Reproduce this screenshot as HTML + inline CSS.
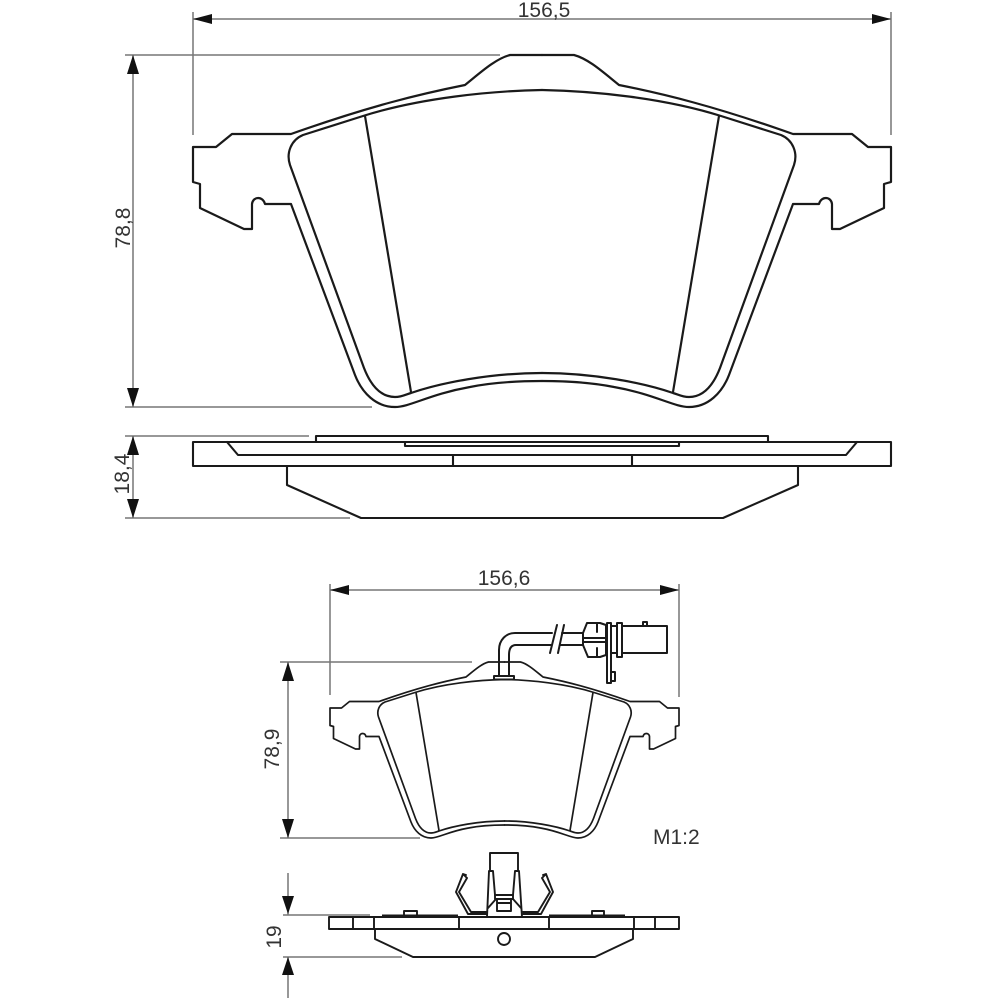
<!DOCTYPE html>
<html><head><meta charset="utf-8"><style>
html,body{margin:0;padding:0;background:#fff}
svg{display:block}
text{font-family:"Liberation Sans",sans-serif;font-size:21px;fill:#333}
.d{stroke:#777;stroke-width:1.5;fill:none}
.k{stroke:#1a1a1a;fill:none;stroke-linejoin:round;stroke-linecap:round}
</style></head><body>
<svg width="1000" height="1000" viewBox="0 0 1000 1000" xmlns="http://www.w3.org/2000/svg">
<defs>
<g id="half">
<path d="M542 55H510C495 59 480 73 465 85C420 94 370 106 291 134H232L216 147H193V182L200 184V208L244 229H252V204C253 196 263 196 265 204H291L355 375C362 393 376 407 395 407C410 407 430 394 470 387C495 382 520 381 542 381"/>
<path d="M542 90C490 91 420 98 363 116L303 135C291 140 286 153 290 165L364 368C371 386 381 397 395 397C402 397 407 394 411 393C440 383 490 373 542 373"/>
<path d="M365 116L411 392"/>
</g>
<g id="pad"><use href="#half"/><use href="#half" transform="translate(1084 0) scale(-1 1)"/></g>
<g id="spring">
<path d="M466 875L463 874L456 892L468 914H486M467 878L459 892L471 912H486M463 874L467 878"/>
</g>
</defs>

<!-- large pad -->
<g class="k" stroke-width="2.2"><use href="#pad"/></g>
<!-- small pad -->
<g class="k" stroke-width="3.4" transform="translate(233.5 634.5) scale(.5)"><use href="#pad"/></g>

<!-- side view large -->
<g class="k" stroke-width="2.1">
<path d="M193 442H891V466H193Z"/>
<path d="M227 442L238 455H846L857 442"/>
<path d="M316 442V436H768V442"/>
<path d="M405 442V446H679V442"/>
<path d="M453 455V466M632 455V466"/>
<path d="M287 466V485L361 518H723L798 485V466"/>
</g>

<!-- bottom view small -->
<g class="k" stroke-width="1.9">
<path d="M329 917H679V929H329Z"/>
<path d="M353 917V929M374 917V929M459 917V929M549 917V929M634 917V929M655 917V929"/>
<path d="M375 930V939L413 957H595L633 939V929"/>
<circle cx="504" cy="939" r="6"/>
<path d="M404 917V911H417V917M592 917V911H604V917"/>
<path d="M490 871V853H518V871"/>
<path d="M487 917L489 871H493L495 895H513L515 871H519L522 917"/>
<path d="M495 895V899H513V895M497 899V911H511V899M497 903H511"/>
<path d="M488 908L496 899M521 908L513 899"/>
<use href="#spring"/>
<use href="#spring" transform="translate(1009 0) scale(-1 1)"/>
</g>
<rect x="382" y="914.500" width="76" height="2.500" fill="#1a1a1a"/>
<rect x="549" y="914.500" width="76" height="2.500" fill="#1a1a1a"/>

<!-- sensor -->
<g class="k" stroke-width="2">
<rect x="494" y="676" width="20" height="3.500"/>
<path d="M499 676V650C499 640 506 633 515 633H552"/>
<path d="M509 676V655C509 649 511 645 516 645H551"/>
<path d="M550 653L557 625M558 653L564 625"/>
<path d="M562 633H583M560 645H583"/>
<path d="M583 633L587 623H600L606 625V655L600 657H588L583 645Z"/>
<path d="M583 638H606M583 642H606M597 623V632M597 648V657"/>
<rect x="607" y="623" width="4" height="60"/>
<path d="M611 672H615V681H611"/>
<rect x="617" y="623" width="5" height="34"/>
<path d="M611 626H617M611 653H617"/>
<rect x="622" y="626" width="45" height="27"/>
<path d="M643 626V622H647V626"/>
</g>

<!-- dimension lines -->
<g class="d">
<path d="M193 19H891M193 12V135M891 12V135"/>
<path d="M125 55H500M125 407H372M133 55V407"/>
<path d="M125 436H309M125 518H350M133 436V518"/>
<path d="M330 590H679M330 584V695M679 584V697"/>
<path d="M280 662H472M280 838H420M288 662V838"/>
<path d="M283 915H370M283 957H402M288 873V915M288 957V998"/>
</g>

<!-- arrowheads -->
<g fill="#111">
<path d="M193 19L212 14V24ZM891 19L872 14V24Z"/>
<path d="M133 55L127 74H139ZM133 407L127 388H139Z"/>
<path d="M133 436L127 455H139ZM133 518L127 499H139Z"/>
<path d="M330 590L349 585V595ZM679 590L660 585V595Z"/>
<path d="M288 662L282 681H294ZM288 838L282 819H294Z"/>
<path d="M288 914L282 896H294ZM288 957L282 975H294Z"/>
</g>

<!-- labels -->
<text x="544" y="17" text-anchor="middle">156,5</text>
<text x="504" y="585" text-anchor="middle">156,6</text>
<text x="653" y="844">M1:2</text>
<text transform="translate(130 228) rotate(-90)" text-anchor="middle">78,8</text>
<text transform="translate(129 474) rotate(-90)" text-anchor="middle">18,4</text>
<text transform="translate(279 749) rotate(-90)" text-anchor="middle">78,9</text>
<text transform="translate(281 937) rotate(-90)" text-anchor="middle">19</text>
</svg>
</body></html>
